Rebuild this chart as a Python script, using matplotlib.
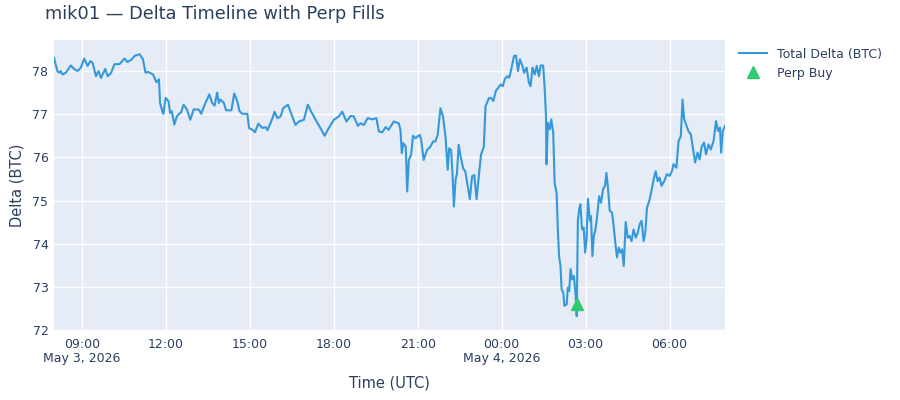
import numpy as np
import pandas as pd
import matplotlib
matplotlib.use("Agg")
from matplotlib import pyplot as plt
import matplotlib.dates as mdates
import matplotlib.ticker as mticker

# hours after 2026-05-03 00:00 UTC
delta_hours = [
    8.00, 8.12, 8.18, 8.24, 8.30, 8.42, 8.60, 8.72, 8.84, 8.96, 9.08, 9.20, 9.30, 9.38,
    9.50, 9.59, 9.68, 9.83, 9.92, 10.04, 10.16, 10.34, 10.52, 10.62, 10.76, 10.88, 11.06,
    11.18, 11.27, 11.36, 11.54, 11.66, 11.75, 11.79, 11.87, 11.91, 11.99, 12.09, 12.15,
    12.21, 12.30, 12.39, 12.47, 12.54, 12.63, 12.75, 12.87, 12.99, 13.17, 13.26, 13.41,
    13.55, 13.65, 13.74, 13.83, 13.89, 13.95, 14.07, 14.15, 14.34, 14.44, 14.55, 14.63,
    14.73, 14.91, 14.97, 15.09, 15.18, 15.30, 15.45, 15.57, 15.63, 15.81,
    15.88, 15.98, 16.10, 16.19, 16.36, 16.45, 16.63, 16.75, 16.93, 17.07, 17.19, 17.35,
    17.52, 17.67, 17.82, 18.00, 18.18, 18.30, 18.45, 18.60, 18.71, 18.86, 18.95, 19.07,
    19.21, 19.37, 19.52, 19.61, 19.73, 19.85, 19.96, 20.14, 20.32, 20.38, 20.43, 20.48,
    20.57, 20.62, 20.68, 20.76, 20.83, 20.92, 20.98, 21.07, 21.12, 21.21, 21.33, 21.45,
    21.55, 21.63, 21.71, 21.81, 21.90, 21.99, 22.07, 22.12, 22.19, 22.24, 22.29, 22.35,
    22.40, 22.46, 22.52, 22.62, 22.70, 22.86, 22.94, 23.02, 23.10, 23.18, 23.26, 23.36,
    23.42, 23.54,
    23.61, 23.70, 23.79, 23.87, 23.96, 24.04, 24.11, 24.20, 24.27, 24.34, 24.44, 24.51,
    24.58, 24.65, 24.74, 24.80, 24.89, 24.97, 25.03, 25.10, 25.18, 25.25, 25.33, 25.39,
    25.48, 25.53, 25.58, 25.60, 25.65, 25.72, 25.77, 25.84, 25.89, 25.96, 26.01, 26.05,
    26.10, 26.14, 26.20, 26.24, 26.32, 26.36, 26.41, 26.46, 26.52, 26.58, 26.64, 26.68,
    26.72, 26.77, 26.81, 26.87, 26.93, 26.98, 27.03, 27.08, 27.15, 27.19, 27.24, 27.29,
    27.35, 27.41, 27.48, 27.55, 27.62, 27.69, 27.74, 27.79, 27.86, 27.94, 28.00, 28.07,
    28.12, 28.18, 28.24, 28.30, 28.36, 28.43, 28.50, 28.57, 28.64, 28.71, 28.79, 28.86,
    28.93, 29.00, 29.07, 29.13, 29.19, 29.29, 29.36, 29.43, 29.50, 29.57, 29.64, 29.71,
    29.81, 29.90, 30.00, 30.08, 30.14, 30.24, 30.32, 30.40, 30.46, 30.52, 30.59, 30.67,
    30.76, 30.83, 30.91, 31.00, 31.07, 31.15, 31.23, 31.30, 31.39, 31.47, 31.57, 31.66,
    31.73, 31.80, 31.84, 31.90, 31.98,
]

total_delta = [
    78.31, 78.00, 77.96, 78.00, 77.92, 77.96, 78.13, 78.05, 78.00, 78.08, 78.29, 78.12, 78.23, 78.19,
    77.88, 78.00, 77.84, 78.05, 77.88, 77.96, 78.16, 78.16, 78.29, 78.21, 78.26, 78.35, 78.39,
    78.27, 77.96, 77.98, 77.92, 77.74, 77.81, 77.26, 77.07, 77.01, 77.38, 77.30, 77.03,
    77.07, 76.76, 76.95, 77.01, 77.04, 77.22, 77.11, 76.87, 77.11, 77.11, 77.01, 77.26,
    77.46, 77.26, 77.20, 77.50, 77.26, 77.34, 77.26, 77.09, 77.09, 77.48, 77.30, 77.07,
    77.01, 77.01, 76.68, 76.64, 76.58, 76.78, 76.68, 76.70, 76.63, 76.91,
    77.06, 76.91, 76.95, 77.14, 77.22, 77.06, 76.75, 76.83, 76.87, 77.22, 77.06, 76.87,
    76.68, 76.50, 76.68, 76.87, 76.95, 77.06, 76.83, 76.96, 76.95, 76.73, 76.79, 76.75,
    76.91, 76.88, 76.91, 76.60, 76.58, 76.70, 76.64, 76.83, 76.79, 76.64, 76.10, 76.33,
    76.25, 75.21, 75.94, 76.06, 76.50, 76.44, 76.48, 76.52, 76.41, 75.94, 76.17, 76.25,
    76.37, 76.37, 76.52, 77.14, 76.95, 76.48, 75.71, 76.21, 76.17, 75.63, 74.86, 75.48,
    75.63, 76.29, 76.06, 75.75, 75.67, 75.03, 75.56, 75.59, 75.03, 75.56, 76.06, 76.25,
    77.18, 77.37,
    77.38, 77.31, 77.54, 77.61, 77.69, 77.65, 77.82, 77.88, 77.85, 78.04, 78.35, 78.36,
    78.00, 78.27, 78.12, 77.96, 78.08, 77.73, 77.65, 78.08, 77.92, 78.12, 77.88, 78.13,
    78.13, 77.65, 77.00, 75.84, 76.80, 76.65, 76.88, 76.57, 75.41, 75.18, 74.25, 73.71,
    73.48, 72.94, 72.86, 72.56, 72.59, 72.98, 72.90, 73.41, 73.17, 73.25, 72.79, 72.32,
    74.53, 74.80, 74.91, 74.33, 74.37, 73.79, 74.10, 75.04, 74.53, 74.64, 73.71, 74.18,
    74.33, 74.64, 75.10, 74.95, 75.26, 75.34, 75.64, 75.34, 74.76, 74.72, 74.41, 73.95,
    73.68, 73.91, 73.79, 73.87, 73.48, 74.50, 74.14, 74.18, 74.06, 74.33, 74.14, 74.25,
    74.45, 74.53, 74.06, 74.25, 74.83, 75.03, 75.26, 75.49, 75.68, 75.45, 75.53, 75.34,
    75.45, 75.61, 75.57, 75.68, 75.84, 75.76, 76.38, 76.49, 77.34, 76.88, 76.76, 76.61,
    76.53, 76.22, 75.88, 76.11, 75.95, 76.26, 76.34, 76.07, 76.30, 76.18, 76.38, 76.84,
    76.61, 76.69, 76.11, 76.61, 76.73,
]

perp_buy_hours = [26.70]
perp_buy_delta = [72.60]

base = pd.Timestamp("2026-05-03")
t_delta = base + pd.to_timedelta(delta_hours, unit="h")
t_buy = base + pd.to_timedelta(perp_buy_hours, unit="h")

TXT = "#2a3f5f"
plt.rcParams['font.family'] = ['DejaVu Sans']

fig = plt.figure(figsize=(9, 4), dpi=100)
ax = fig.add_axes([0.06, 0.173, 0.7456, 0.727])
ax.set_facecolor("#E5ECF6")
for s in ax.spines.values():
    s.set_visible(False)
ax.grid(True, color="white", linewidth=1.0)
ax.set_axisbelow(True)

ax.plot(t_delta, total_delta, color="#3498db", linewidth=1.5, label="Total Delta (BTC)")
ax.plot(t_buy, perp_buy_delta, linestyle="none", marker="^", markersize=8,
        color="#2ecc71", label="Perp Buy")

ax.set_xlim(t_delta[0], t_delta[-1])
ax.set_ylim(71.98, 78.72)
ax.set_yticks([72, 73, 74, 75, 76, 77, 78])

ticks = pd.date_range("2026-05-03 09:00", "2026-05-04 06:00", freq="3h")
ax.set_xticks(mdates.date2num(ticks))

def fmt(x, pos):
    d = mdates.num2date(x)
    s = d.strftime("%H:%M")
    if pos == 0 or d.hour == 0:
        s += "\n" + d.strftime("%b ") + str(d.day) + d.strftime(", %Y")
    return s

ax.xaxis.set_major_formatter(mticker.FuncFormatter(fmt))
ax.tick_params(axis="both", length=0, labelsize=9, labelcolor=TXT)
ax.tick_params(axis="x", pad=5)
ax.tick_params(axis="y", pad=4)
for lab in ax.get_xticklabels():
    lab.set_linespacing(1.1)

ax.set_xlabel("Time (UTC)", fontsize=10.5, color=TXT, labelpad=8)
ax.set_ylabel("Delta (BTC)", fontsize=10.5, color=TXT, labelpad=6)
fig.text(0.05, 0.965, "mik01 \u2014 Delta Timeline with Perp Fills", fontsize=12.8,
         color=TXT, va="center", ha="left")

leg = ax.legend(loc="upper left", bbox_to_anchor=(1.01, 1.0), frameon=False,
                fontsize=9, labelcolor=TXT, handlelength=2.2, borderaxespad=0.2)

fig.savefig("out.png", dpi=100)
